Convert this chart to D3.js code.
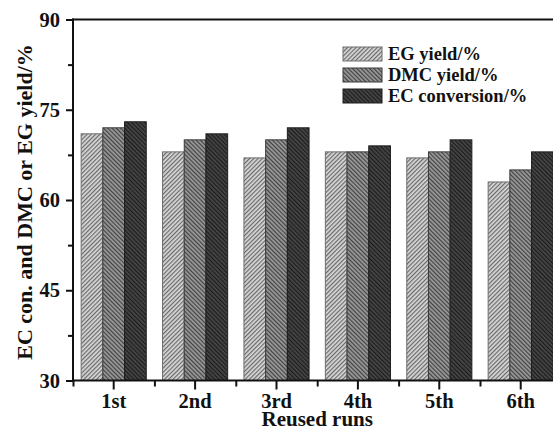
<!DOCTYPE html>
<html>
<head>
<meta charset="utf-8">
<script src="https://cdn.jsdelivr.net/npm/d3@7"></script>
<style>
  html, body { margin: 0; padding: 0; background: #fff; overflow: hidden; }
  svg { display: block; }
  text { font-family: "Liberation Serif", "Times New Roman", serif; font-weight: bold; fill: #111; }
</style>
</head>
<body>
<svg id="chart" width="553" height="429"></svg>
<script>
const categories = ["1st", "2nd", "3rd", "4th", "5th", "6th"];
const seriesNames = ["EG yield/%", "DMC yield/%", "EC conversion/%"];
const egYield = [71, 68, 67, 68, 67, 63];
const dmcYield = [72, 70, 70, 68, 68, 65];
const ecConversion = [73, 71, 72, 69, 70, 68];
const yTicks = [30, 45, 60, 75, 90];
const yMinorTicks = [37.5, 52.5, 67.5, 82.5];
const xTitle = "Reused runs";
const yTitle = "EC con. and DMC or EG yield/%";

const series = [egYield, dmcYield, ecConversion];

const svg = d3.select("#chart");
const mLeft = 73, mTop = 19.5, mBottom = 380.5;
const step = 81.4;
const mRight = mLeft + step * categories.length;

const x = d3.scaleBand().domain(categories).range([mLeft, mRight]).paddingInner(0.2).paddingOuter(0.1);
const xs = d3.scaleBand().domain(d3.range(series.length)).range([0, x.bandwidth()]);
const y = d3.scaleLinear().domain([30, 90]).range([mBottom, mTop]);

// patterns
const defs = svg.append("defs");
const pats = [
  {id: "pEG", bg: "#d6d6d6", line: "#626262", rot: 45, stroke: "#6e6e6e"},
  {id: "pDMC", bg: "#999999", line: "#3c3c3c", rot: -45, stroke: "#3a3a3a"},
  {id: "pEC", bg: "#454545", line: "#1a1a1a", rot: -45, stroke: "#1e1e1e"}
];
pats.forEach(p => {
  const pt = defs.append("pattern").attr("id", p.id)
    .attr("patternUnits", "userSpaceOnUse").attr("width", 3).attr("height", 3)
    .attr("patternTransform", `rotate(${p.rot})`);
  pt.append("rect").attr("width", 3).attr("height", 3).attr("fill", p.bg);
  pt.append("line").attr("x1", 0.6).attr("y1", 0).attr("x2", 0.6).attr("y2", 3)
    .attr("stroke", p.line).attr("stroke-width", 1.1);
});

// bars
const g = svg.append("g");
categories.forEach((c, i) => {
  series.forEach((s, j) => {
    g.append("rect")
      .attr("x", x(c) + xs(j))
      .attr("y", y(s[i]))
      .attr("width", xs.bandwidth())
      .attr("height", y(30) - y(s[i]))
      .attr("fill", `url(#${pats[j].id})`)
      .attr("stroke", pats[j].stroke)
      .attr("stroke-width", 1);
  });
});

// axes
const yAxis = svg.append("g").attr("transform", `translate(${mLeft},0)`)
  .call(d3.axisLeft(y).tickValues(yTicks).tickSize(7).tickPadding(6));
const yMinor = svg.append("g").attr("transform", `translate(${mLeft},0)`)
  .call(d3.axisLeft(y).tickValues(yMinorTicks).tickSize(5).tickFormat(""));
const xAxis = svg.append("g").attr("transform", `translate(0,${mBottom})`)
  .call(d3.axisBottom(x).tickSize(9).tickPadding(4));
const xMinorVals = d3.range(categories.length + 1).map(k => mLeft + k * step);
const xLin = d3.scaleLinear().domain([mLeft, mRight]).range([mLeft, mRight]);
const xMinor = svg.append("g").attr("transform", `translate(0,${mBottom})`)
  .call(d3.axisBottom(xLin).tickValues(xMinorVals).tickSize(6).tickFormat(""));

[yAxis, yMinor, xAxis, xMinor].forEach(a => {
  a.select(".domain").remove();
  a.selectAll("line").attr("stroke", "#111").attr("stroke-width", 2);
});
yAxis.selectAll("text").attr("font-size", 20.5).style("font-family", "Liberation Serif, serif").style("font-weight", "bold").attr("fill", "#111");
xAxis.selectAll("text").attr("font-size", 20.5).style("font-family", "Liberation Serif, serif").style("font-weight", "bold").attr("fill", "#111");

// frame lines
svg.append("line").attr("x1", mLeft).attr("x2", mLeft).attr("y1", mTop - 1).attr("y2", mBottom + 1)
  .attr("stroke", "#111").attr("stroke-width", 2);
svg.append("line").attr("x1", mLeft - 1).attr("x2", 560).attr("y1", mBottom).attr("y2", mBottom)
  .attr("stroke", "#111").attr("stroke-width", 2.2);
svg.append("line").attr("x1", mLeft - 1).attr("x2", 560).attr("y1", mTop).attr("y2", mTop)
  .attr("stroke", "#111").attr("stroke-width", 2);

// titles
svg.append("text").attr("x", (mLeft + mRight) / 2).attr("y", 426)
  .attr("text-anchor", "middle").attr("font-size", 21).text(xTitle);
svg.append("text").attr("transform", `translate(32,${(mTop + mBottom) / 2 + 2}) rotate(-90)`)
  .attr("text-anchor", "middle").attr("font-size", 22).text(yTitle);

// legend
const lg = svg.append("g").attr("transform", "translate(343,47)");
seriesNames.forEach((n, j) => {
  lg.append("rect").attr("x", 0).attr("y", j * 21).attr("width", 39).attr("height", 14)
    .attr("fill", `url(#${pats[j].id})`).attr("stroke", pats[j].stroke).attr("stroke-width", 1);
  lg.append("text").attr("x", 45).attr("y", j * 21 + 13).attr("font-size", 18.5).text(n);
});
</script>
</body>
</html>
